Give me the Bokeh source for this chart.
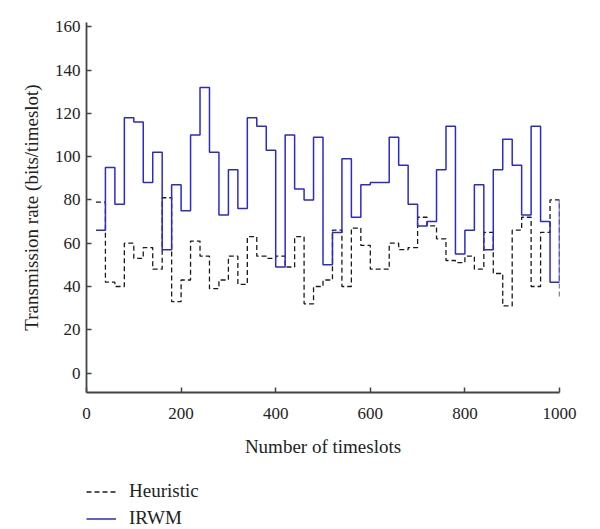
from bokeh.plotting import figure
from bokeh.models import Range1d, FixedTicker, Legend, LegendItem
from bokeh.layouts import column
from bokeh.embed import file_html
from bokeh.resources import INLINE

# ---- data -------------------------------------------------------------
timeslots = list(range(20, 1001, 20))

irwm = [66, 95, 78, 118, 116, 88, 102, 57, 87, 75,
        110, 132, 102, 73, 94, 76, 118, 114, 103, 49,
        110, 85, 80, 109, 50, 65, 99, 72, 87, 88,
        88, 109, 96, 78, 68, 70, 94, 114, 55, 66,
        87, 57, 94, 108, 96, 73, 114, 70, 42, 80]

heuristic = [79, 42, 40, 60, 53, 58, 48, 81, 33, 43,
             61, 54, 39, 43, 54, 41, 63, 54, 53, 54,
             49, 63, 32, 40, 43, 66, 40, 67, 59, 48,
             48, 60, 57, 58, 72, 68, 62, 52, 51, 54,
             48, 65, 46, 31, 66, 72, 40, 65, 80, 34]

x_ticks = [0, 200, 400, 600, 800, 1000]
y_ticks = [0, 20, 40, 60, 80, 100, 120, 140, 160]

FONT = "Liberation Serif"
TXT = "#222222"
AX = "#444444"
BLUE = "#2a2ad2"
BLACK = "#1a1a1a"

# ---- main chart -------------------------------------------------------
p = figure(frame_width=473, frame_height=370, output_backend="svg",
           toolbar_location=None,
           x_range=Range1d(0, 1000), y_range=Range1d(-9, 162),
           min_border_left=86, min_border_right=33,
           min_border_top=22, min_border_bottom=88)

p.outline_line_color = None
p.grid.visible = False
p.background_fill_color = "white"
p.border_fill_color = "white"

p.step(timeslots, heuristic, mode="after", line_color=BLACK,
       line_width=1.3, line_dash="5 3")
p.step(timeslots, irwm, mode="after", line_color=BLUE, line_width=1.5)

for ax in (p.xaxis[0], p.yaxis[0]):
    ax.axis_line_color = AX
    ax.axis_line_width = 1.8
    ax.major_tick_line_color = AX
    ax.major_tick_line_width = 1.5
    ax.major_tick_in = 5
    ax.major_tick_out = 0
    ax.minor_tick_line_color = None
    ax.major_label_text_font = FONT
    ax.major_label_text_font_size = "17px"
    ax.major_label_text_color = TXT
    ax.axis_label_text_font = FONT
    ax.axis_label_text_font_size = "19px"
    ax.axis_label_text_font_style = "normal"
    ax.axis_label_text_color = TXT

p.xaxis.ticker = FixedTicker(ticks=x_ticks)
p.yaxis.ticker = FixedTicker(ticks=y_ticks)
p.xaxis.axis_label = "Number of timeslots"
p.yaxis.axis_label = "Transmission rate (bits/timeslot)"
p.xaxis.major_label_standoff = 15
p.yaxis.major_label_standoff = 6
p.xaxis.axis_label_standoff = 14
p.yaxis.axis_label_standoff = 10

# ---- legend strip below the chart ---------------------------------------
lg = figure(frame_width=473, frame_height=49, output_backend="svg",
            toolbar_location=None,
            x_range=Range1d(2000, 3000), y_range=Range1d(0, 1),
            min_border_left=86, min_border_right=33,
            min_border_top=0, min_border_bottom=0)
lg.outline_line_color = None
lg.grid.visible = False
lg.axis.visible = False
lg.background_fill_color = "white"
lg.border_fill_color = "white"

l_h = lg.step(timeslots, heuristic, mode="after", line_color=BLACK,
              line_width=1.3, line_dash="5 3")
l_i = lg.step(timeslots, irwm, mode="after", line_color=BLUE, line_width=1.5)

legend = Legend(items=[LegendItem(label="Heuristic", renderers=[l_h]),
                       LegendItem(label="IRWM", renderers=[l_i])],
                location="top_left", orientation="vertical",
                glyph_width=30, glyph_height=19, label_height=19,
                label_standoff=13, spacing=5, padding=0, margin=0,
                border_line_color=None, background_fill_alpha=0,
                label_text_font=FONT, label_text_font_size="19px",
                label_text_color=TXT)
lg.add_layout(legend, "center")

open("out.html", "w").write(file_html(column(p, lg, spacing=0), INLINE))
